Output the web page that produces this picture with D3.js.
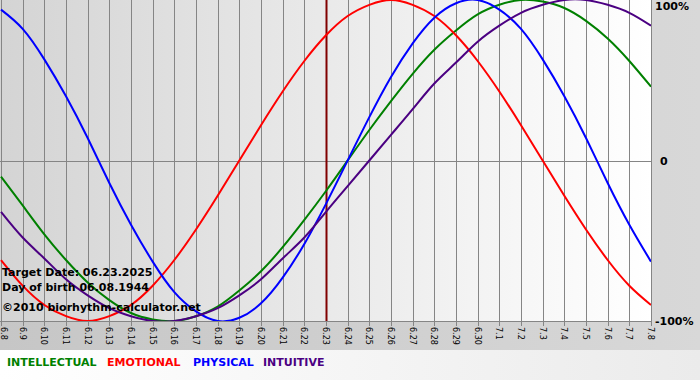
<!DOCTYPE html>
<html>
<head>
<meta charset="utf-8">
<script src="https://cdn.jsdelivr.net/npm/d3@7"></script>
<style>
  body { margin: 0; padding: 0; background: #fff; }
  svg { display: block; }
</style>
</head>
<body>
<script>
//Define SVG width and height
let fullSVGWidth = 700;
let fullSVGHeight = 380;

//plot box
let plot = { left: 1, right: 651, top: 0, bottom: 321 };

//dates on the x axis
let dayLabels = ["6.8","6.9","6.10","6.11","6.12","6.13","6.14","6.15","6.16","6.17","6.18","6.19","6.20",
    "6.21","6.22","6.23","6.24","6.25","6.26","6.27","6.28","6.29","6.30","7.1","7.2","7.3","7.4","7.5",
    "7.6","7.7","7.8"];
let targetLabel = "6.23";

//cycle values, one per day
let intellectual = [-0.10,-0.28,-0.46,-0.62,-0.76,-0.87,-0.95,-0.99,-1.00,-0.97,-0.91,-0.81,-0.69,-0.54,-0.37,-0.19,
    0,0.19,0.37,0.54,0.69,0.81,0.91,0.97,1.00,0.99,0.95,0.87,0.76,0.62,0.46];
let emotional = [-0.62,-0.78,-0.90,-0.97,-1.00,-0.97,-0.90,-0.78,-0.62,-0.43,-0.22,
    0,0.22,0.43,0.62,0.78,0.90,0.97,1.00,0.97,0.90,0.78,0.62,0.43,0.22,0,-0.22,-0.43,-0.62,-0.78,-0.90];
let physical = [0.94,0.82,0.63,0.40,0.14,-0.14,-0.40,-0.63,-0.82,-0.94,-1.00,-0.98,-0.89,-0.73,-0.52,-0.27,
    0,0.27,0.52,0.73,0.89,0.98,1.00,0.94,0.82,0.63,0.40,0.14,-0.14,-0.40,-0.63];
let intuitive = [-0.32,-0.48,-0.61,-0.74,-0.84,-0.92,-0.97,-1.00,-1.00,-0.97,-0.92,-0.84,-0.74,-0.61,-0.48,-0.32,-0.16,
    0,0.16,0.32,0.48,0.61,0.74,0.84,0.92,0.97,1.00,1.00,0.97,0.92,0.84];

//right axis
let yTicks = [1, 0, -1];
let yTickLabels = ["100%", "0", "-100%"];

let seriesNames = ["INTELLECTUAL", "EMOTIONAL", "PHYSICAL", "INTUITIVE"];
let seriesColors = ["#008000", "#ff0000", "#0000ff", "#4b0082"];
let seriesValues = [intellectual, emotional, physical, intuitive];

let infoLines = ["Target Date: 06.23.2025", "Day of birth 06.08.1944", "\u00a92010 biorhythm-calculator.net"];

let x = d3.scalePoint()
    .domain(dayLabels)
    .range([plot.left, plot.right]);

let y = d3.scaleLinear()
    .domain([-1, 1])
    .range([plot.bottom, plot.top]);

let svg = d3.select("body")
    .append("svg")
    .attr("width", fullSVGWidth)
    .attr("height", fullSVGHeight)
    .style("font-family", "Verdana, 'DejaVu Sans', sans-serif");

const defs = svg.append("defs");

const outerGrad = defs.append("linearGradient").attr("id", "outer-grad");
outerGrad.append("stop").attr("offset", "0%").attr("stop-color", "#c6c6c6");
outerGrad.append("stop").attr("offset", "100%").attr("stop-color", "#d8d8d8");

const plotGrad = defs.append("linearGradient").attr("id", "plot-grad");
plotGrad.append("stop").attr("offset", "0%").attr("stop-color", "#d4d4d4");
plotGrad.append("stop").attr("offset", "100%").attr("stop-color", "#ffffff");

const legendGrad = defs.append("linearGradient").attr("id", "legend-grad");
legendGrad.append("stop").attr("offset", "0%").attr("stop-color", "#ffffff");
legendGrad.append("stop").attr("offset", "100%").attr("stop-color", "#ebebeb");

//backgrounds
svg.append("rect")
    .attr("width", fullSVGWidth)
    .attr("height", fullSVGHeight)
    .style("fill", "url(#outer-grad)");

svg.append("rect")
    .attr("y", 350)
    .attr("width", fullSVGWidth)
    .attr("height", 30)
    .style("fill", "url(#legend-grad)");

svg.append("rect")
    .attr("x", 0)
    .attr("y", plot.top)
    .attr("width", plot.right)
    .attr("height", plot.bottom - plot.top)
    .style("fill", "url(#plot-grad)");

//vertical day lines
svg.append("g")
    .selectAll("line")
    .data(dayLabels)
    .enter()
    .append("line")
    .attr("x1", d => Math.round(x(d)) + 0.5)
    .attr("x2", d => Math.round(x(d)) + 0.5)
    .attr("y1", plot.top)
    .attr("y2", plot.bottom + 5)
    .style("stroke", "#858585")
    .style("stroke-width", 1);

//zero line and bottom line
svg.append("line")
    .attr("x1", 0).attr("x2", plot.right)
    .attr("y1", Math.round(y(0)) + 0.5).attr("y2", Math.round(y(0)) + 0.5)
    .style("stroke", "#858585");

svg.append("line")
    .attr("x1", 0).attr("x2", plot.right)
    .attr("y1", plot.bottom + 0.5).attr("y2", plot.bottom + 0.5)
    .style("stroke", "#858585");

//target date
svg.append("line")
    .attr("x1", Math.round(x(targetLabel)) + 0.5)
    .attr("x2", Math.round(x(targetLabel)) + 0.5)
    .attr("y1", plot.top)
    .attr("y2", plot.bottom)
    .style("stroke", "#800000")
    .style("stroke-width", 2);

defs.append("clipPath")
    .attr("id", "plot-clip")
    .append("rect")
    .attr("x", 0)
    .attr("y", -2)
    .attr("width", plot.right)
    .attr("height", plot.bottom + 2);

//curves
let line = d3.line()
    .x((d, i) => x(dayLabels[i]))
    .y(d => y(d))
    .curve(d3.curveNatural);

svg.append("g")
    .attr("clip-path", "url(#plot-clip)")
    .selectAll("path")
    .data(seriesValues)
    .enter()
    .append("path")
    .attr("d", d => line(d))
    .style("fill", "none")
    .style("stroke", (d, i) => seriesColors[i])
    .style("stroke-width", 2);

//x labels, rotated
svg.append("g")
    .selectAll("text")
    .data(dayLabels)
    .enter()
    .append("text")
    .attr("transform", d => "translate(" + Math.max(x(d) - 3, 1) + "," + (plot.bottom + 6) + ") rotate(90)")
    .style("font-size", "8px")
    .style("fill", "#000")
    .text(d => d);

//right axis labels
svg.append("g")
    .selectAll("text")
    .data(yTicks)
    .enter()
    .append("text")
    .attr("x", (d, i) => i === 1 ? 660 : 655)
    .attr("y", d => y(d) + 4)
    .attr("dy", (d, i) => i === 0 ? 6 : 0)
    .style("font-size", "11px")
    .style("font-weight", "bold")
    .style("fill", "#000")
    .text((d, i) => yTickLabels[i]);

//info text
svg.append("g")
    .selectAll("text")
    .data(infoLines)
    .enter()
    .append("text")
    .attr("x", 2)
    .attr("y", (d, i) => [276, 291, 311][i])
    .style("font-size", "11px")
    .style("font-weight", "bold")
    .style("fill", "#000")
    .text(d => d);

//legend
let legend = svg.append("text")
    .attr("x", 7)
    .attr("y", 366)
    .style("font-size", "11px")
    .style("font-weight", "bold");

legend.selectAll("tspan")
    .data(seriesNames)
    .enter()
    .append("tspan")
    .attr("x", (d, i) => [7, 107, 193, 263][i])
    .style("fill", (d, i) => seriesColors[i])
    .text(d => d);
</script>
</body>
</html>
